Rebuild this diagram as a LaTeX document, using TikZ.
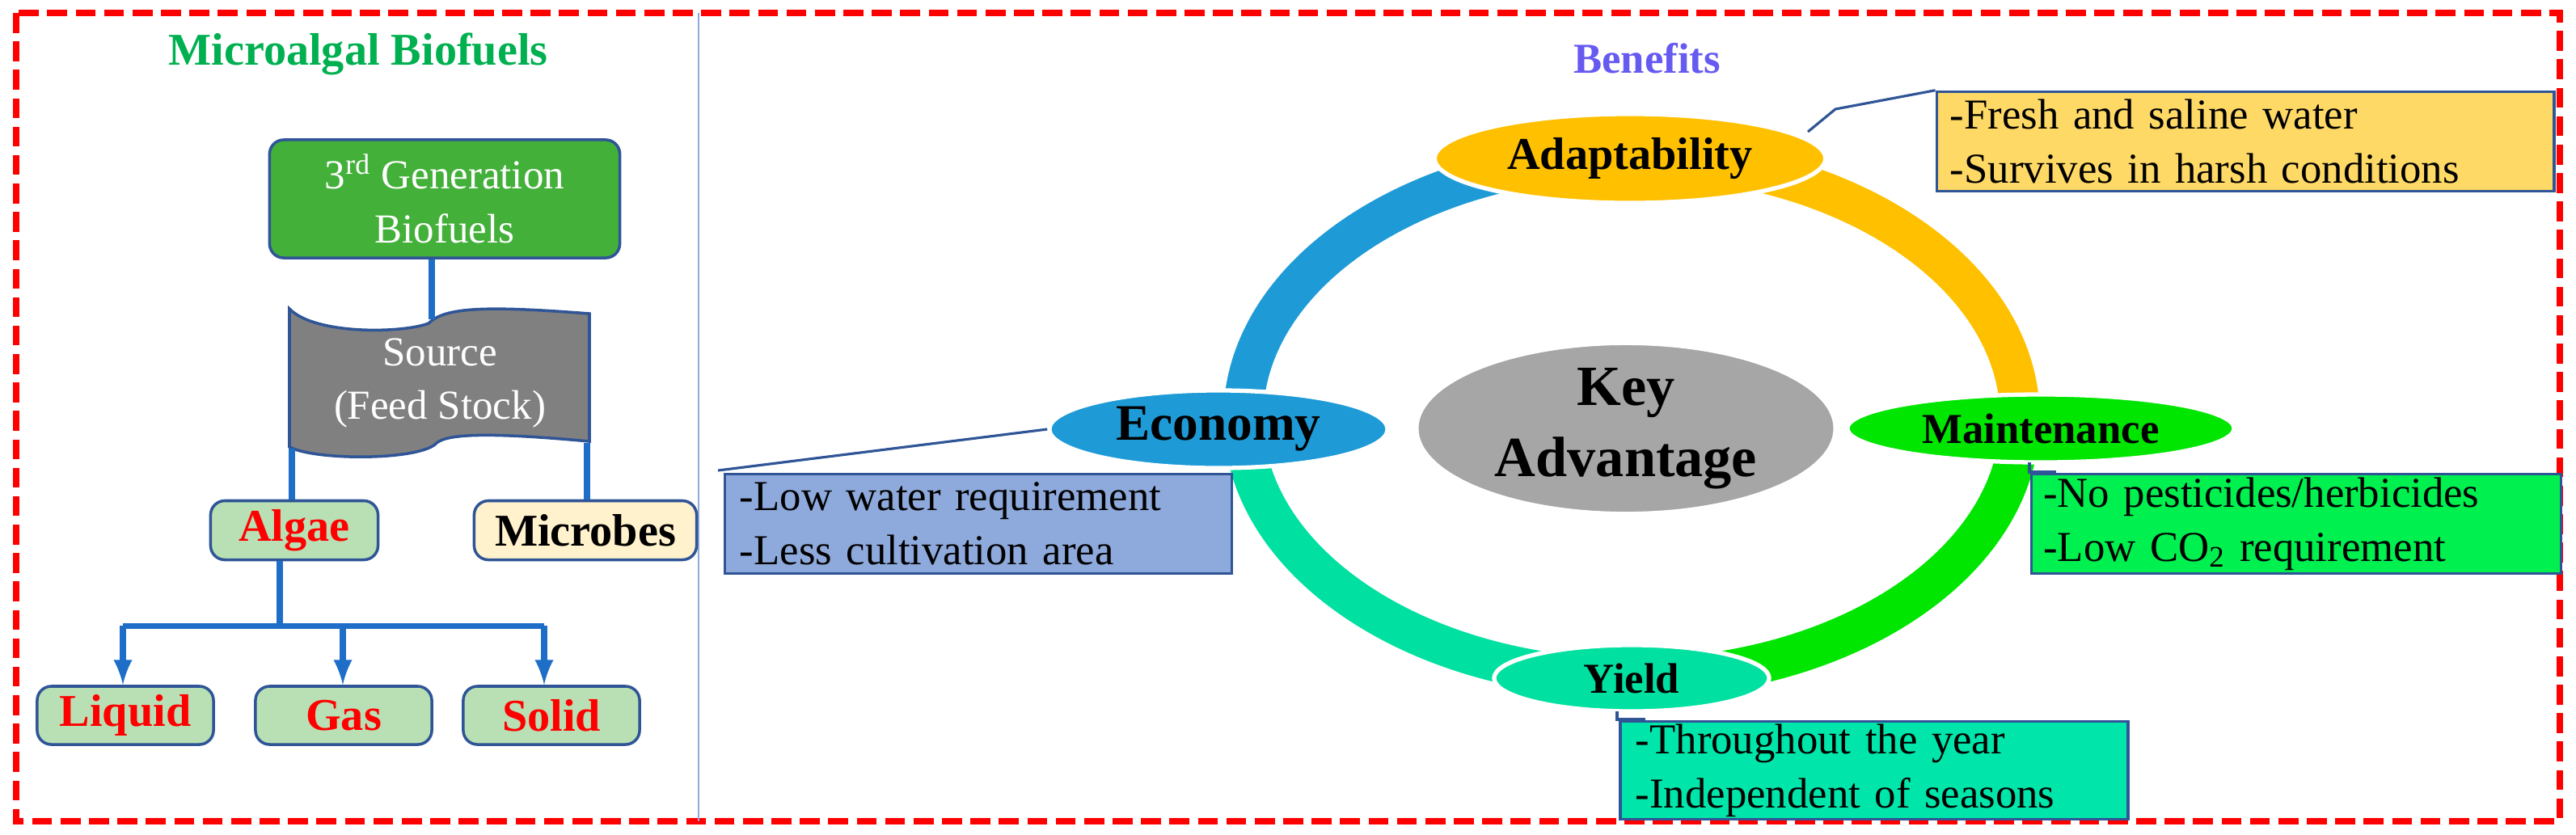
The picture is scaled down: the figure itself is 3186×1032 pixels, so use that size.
\documentclass[tikz,border=0pt]{standalone}
\usepackage{fontspec}
\setmainfont{Liberation Serif}
\usetikzlibrary{shapes.geometric}
\usetikzlibrary{calc}

\definecolor{frame}{RGB}{255,0,0}
\definecolor{edge}{RGB}{47,85,151}
\definecolor{link}{RGB}{30,110,200}
\definecolor{gengreen}{RGB}{67,176,58}
\definecolor{pale}{RGB}{185,224,180}
\definecolor{cream}{RGB}{255,242,204}
\definecolor{ecoblue}{RGB}{30,155,215}
\definecolor{adaorange}{RGB}{255,192,0}
\definecolor{mgreen}{RGB}{0,230,0}
\definecolor{ycyan}{RGB}{0,224,160}
\definecolor{keygray}{RGB}{166,166,166}
\definecolor{boxyel}{RGB}{255,217,102}
\definecolor{boxblue}{RGB}{142,169,219}
\definecolor{boxgreen}{RGB}{0,240,80}
\definecolor{boxcyan}{RGB}{0,230,170}

\tikzset{
  rbox/.style={draw=edge, line width=1pt, rounded corners=5pt, inner sep=0pt},
  kind/.style={rbox, fill=pale, text=red, font=\fontsize{16}{19}\selectfont\bfseries,
    minimum width=2.18cm, minimum height=0.72cm},
  oval/.style={ellipse, draw=white, line width=1.5pt, inner sep=0pt},
  note/.style={draw=edge, line width=1pt, align=left, inner sep=0pt,
    font=\fontsize{15}{19}\selectfont, text width=5.9cm},
  lead/.style={draw=edge, line width=0.9pt},
  ring/.style={line width=14pt}
}

\begin{document}
\begin{tikzpicture}[x=0.01cm, y=-0.01cm]
\useasboundingbox (0,0) rectangle (3186,1032);

%frame
\draw[frame, line width=2.2pt, dash pattern=on 7pt off 3pt] (20,16) rectangle (3166,1016);
\draw[boxblue, line width=0.8pt] (864,16) -- (864,1016);

%left panel
\node[text={rgb,255:red,0;green,176;blue,80}, font=\fontsize{16}{19}\selectfont\bfseries] (ttl) at (443,67) {Microalgal Biofuels};

\node[rbox, fill=gengreen, text=white, align=center, font=\fontsize{14.5}{19}\selectfont,
  minimum width=4.33cm, minimum height=1.46cm] (gen) at (550,246) {3\textsuperscript{rd} Generation\\Biofuels};

\draw[edge, line width=1pt, fill=gray] (358,382) .. controls (390,415) and (500,412) .. (530,400)
  .. controls (550,380) and (600,378) .. (729,388) -- (729,546)
  .. controls (620,536) and (555,535) .. (540,548) .. controls (520,570) and (390,570) .. (358,553) -- cycle;
\node[text=white, align=center, font=\fontsize{14.5}{19}\selectfont] (src) at (544,474) {Source\\(Feed Stock)};
\coordinate (srctop) at (534,395);
\coordinate (srcleft) at (361,555);
\coordinate (srcright) at (726,548);

\node[kind, minimum width=2.07cm, minimum height=0.73cm] (alg) at (364,656) {Algae};
\node[rbox, fill=cream, font=\fontsize{16}{19}\selectfont\bfseries,
  minimum width=2.75cm, minimum height=0.73cm] (mic) at (724,656) {Microbes};

\node[kind] (liq) at (155,885) {Liquid};
\node[kind] (gas) at (425,885) {Gas};
\node[kind] (sol) at (682,885) {Solid};

\draw[link, line width=2pt] (gen.south -| srctop) -- (srctop);
\draw[link, line width=2pt] (srcleft) -- (srcleft |- alg.north);
\draw[link, line width=2pt] (srcright) -- (srcright |- mic.north);
\coordinate (fork) at (346,774);
\draw[link, line width=2pt] (alg.south -| fork) -- (fork);
\draw[link, line width=2pt] (152,774) -- (673,774);
\foreach \x/\t in {152/liq, 424/gas, 673/sol}
  \draw[link, line width=2pt, -latex] (\x,774) -- (\t.north -| \x,0);

%right panel
\node[text={rgb,255:red,102;green,90;blue,240}, font=\fontsize{15}{18}\selectfont\bfseries] (ben) at (2037,72) {Benefits};

\coordinate (hub) at (2018,517);
\draw[ring, ecoblue] ($(hub)+(0,-322)$) arc[start angle=90, end angle=180, x radius=4.8cm, y radius=3.22cm];
\draw[ring, adaorange] ($(hub)+(0,-322)$) arc[start angle=90, end angle=0, x radius=4.8cm, y radius=3.22cm];
\draw[ring, mgreen] ($(hub)+(0,322)$) arc[start angle=270, end angle=360, x radius=4.8cm, y radius=3.22cm];
\draw[ring, ycyan] ($(hub)+(0,322)$) arc[start angle=270, end angle=180, x radius=4.8cm, y radius=3.22cm];

\node[oval, fill=keygray, minimum width=5.18cm, minimum height=1.91cm, align=center,
  font=\fontsize{20}{25}\selectfont\bfseries] (key) at (2011,530) {Key\\Advantage};
\node[oval, fill=adaorange, minimum width=4.83cm, minimum height=1.1cm,
  font=\fontsize{16}{19}\selectfont\bfseries] (ada) at (2016,196) {Adaptability};
\node[oval, fill=ecoblue, minimum width=4.18cm, minimum height=0.96cm,
  font=\fontsize{18}{21}\selectfont\bfseries] (eco) at (1507,531) {Economy};
\node[oval, fill=mgreen, minimum width=4.78cm, minimum height=0.84cm,
  font=\fontsize{15}{18}\selectfont\bfseries] (mai) at (2524,530) {Maintenance};
\node[oval, fill=ycyan, minimum width=3.4cm, minimum height=0.82cm,
  font=\fontsize{15}{18}\selectfont\bfseries] (yld) at (2018,839) {Yield};

\node[note, fill=boxyel, minimum width=7.63cm, minimum height=1.23cm, text width=7.3cm] (adanote) at (2777,175)
  {-Fresh and saline water\\-Survives in harsh conditions};
\node[note, fill=boxblue, minimum width=6.27cm, minimum height=1.23cm] (econote) at (1210,648)
  {-Low water requirement\\-Less cultivation area};
\node[note, fill=boxgreen, minimum width=6.55cm, minimum height=1.23cm, text width=6.25cm] (mainote) at (2840,648)
  {-No pesticides/herbicides\\-Low CO\textsubscript{2} requirement};
\node[note, fill=boxcyan, minimum width=6.28cm, minimum height=1.21cm] (yldnote) at (2318,953)
  {-Throughout the year\\-Independent of seasons};

\draw[lead] (2236,163) -- (2270,135) -- (adanote.north west);
\draw[lead] (eco.west) -- (888,582);
\draw[lead] (2510,572) -- (2510,584) -- (2543,584);
\draw[lead] (2000,880) -- (2000,890) -- (2035,890);
\end{tikzpicture}
\end{document}
